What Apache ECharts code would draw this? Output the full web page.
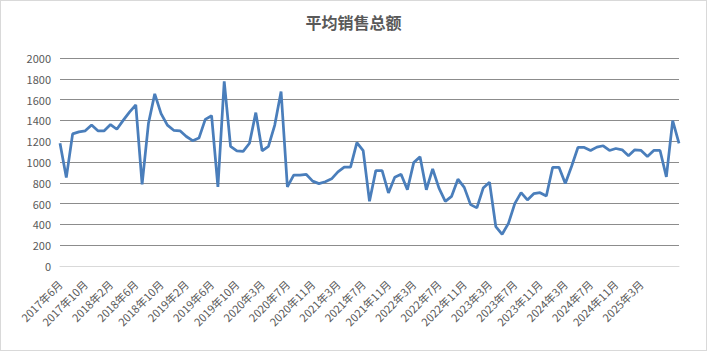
<!DOCTYPE html>
<html>
<head>
<meta charset="utf-8">
<script src="https://cdn.jsdelivr.net/npm/echarts@6/dist/echarts.min.js"></script>
<style>
  html, body { margin: 0; padding: 0; background: #fff; }
  #main { width: 707px; height: 351px; box-sizing: border-box; border: 1px solid #d9d9d9; }
</style>
</head>
<body>
<div id="main"></div>
<script>
// 月份（2020年1-2月合并为一期）
var months = [
  "2017年6月", "2017年7月", "2017年8月", "2017年9月", "2017年10月", "2017年11月", "2017年12月",
  "2018年1月", "2018年2月", "2018年3月", "2018年4月", "2018年5月", "2018年6月", "2018年7月",
  "2018年8月", "2018年9月", "2018年10月", "2018年11月", "2018年12月",
  "2019年1月", "2019年2月", "2019年3月", "2019年4月", "2019年5月", "2019年6月", "2019年7月",
  "2019年8月", "2019年9月", "2019年10月", "2019年11月", "2019年12月",
  "2020年2月", "2020年3月", "2020年4月", "2020年5月", "2020年6月", "2020年7月", "2020年8月",
  "2020年9月", "2020年10月", "2020年11月", "2020年12月",
  "2021年1月", "2021年2月", "2021年3月", "2021年4月", "2021年5月", "2021年6月", "2021年7月",
  "2021年8月", "2021年9月", "2021年10月", "2021年11月", "2021年12月",
  "2022年1月", "2022年2月", "2022年3月", "2022年4月", "2022年5月", "2022年6月", "2022年7月",
  "2022年8月", "2022年9月", "2022年10月", "2022年11月", "2022年12月",
  "2023年1月", "2023年2月", "2023年3月", "2023年4月", "2023年5月", "2023年6月", "2023年7月",
  "2023年8月", "2023年9月", "2023年10月", "2023年11月", "2023年12月",
  "2024年1月", "2024年2月", "2024年3月", "2024年4月", "2024年5月", "2024年6月", "2024年7月",
  "2024年8月", "2024年9月", "2024年10月", "2024年11月", "2024年12月",
  "2025年1月", "2025年2月", "2025年3月", "2025年4月", "2025年5月", "2025年6月", "2025年7月",
  "2025年8月", "2025年9月"
];

var avgSales = [
  1180, 850, 1270, 1290, 1300, 1355, 1300, 1300, 1360, 1315, 1400, 1480, 1550, 785,
  1370, 1655, 1465, 1355, 1305, 1300, 1245, 1205, 1230, 1410, 1445,
  760, 1775, 1150, 1108, 1102, 1180, 1475, 1108, 1150, 1355, 1678,
  760, 873, 873, 880, 816, 792, 810, 838, 905, 950, 950, 1187, 1110,
  622, 917, 917, 702, 854, 883, 733, 994, 1050, 733, 933, 749, 622, 670, 835, 756,
  590, 559, 749, 806, 378, 305, 410, 600, 705,
  635, 695, 705, 673, 949, 949, 794, 959, 1140, 1140, 1111, 1143, 1156,
  1111, 1130, 1117, 1060, 1117, 1111, 1054, 1111, 1111, 857, 1397, 1180
];

var yTicks = { min: 0, max: 2000, step: 200 };
var labelEvery = 4;
var lastLabel = "2025年3月";

var chart = echarts.init(document.getElementById("main"), null, { renderer: "svg" });
chart.setOption({
  backgroundColor: "#fff",
  animation: false,
  title: {
    text: "平均销售总额",
    left: "center",
    top: 8,
    textStyle: {
      fontFamily: "Noto Sans CJK SC",
      fontSize: 16,
      fontWeight: "bold",
      color: "#595959"
    }
  },
  grid: {
    left: 59,
    right: 27,
    top: 57,
    bottom: 84
  },
  xAxis: {
    type: "category",
    boundaryGap: false,
    data: months,
    axisTick: { show: false },
    axisLine: { lineStyle: { color: "#d9d9d9", width: 1 } },
    axisLabel: {
      interval: function (i) {
        return i % labelEvery === 0 && i <= months.indexOf(lastLabel);
      },
      rotate: 45,
      margin: 16,
      fontFamily: "Noto Sans CJK SC",
      fontSize: 11,
      color: "#595959"
    }
  },
  yAxis: {
    type: "value",
    min: yTicks.min,
    max: yTicks.max,
    interval: yTicks.step,
    axisLine: { show: false },
    axisTick: { show: false },
    axisLabel: {
      margin: 9,
      fontFamily: "Noto Sans CJK SC",
      fontSize: 11,
      color: "#595959",
      formatter: function (v) { return String(v); }
    },
    splitLine: { lineStyle: { color: "#8c8c8c", width: 1 } }
  },
  series: [
    {
      name: "平均销售总额",
      type: "line",
      data: avgSales,
      showSymbol: false,
      lineStyle: { color: "#4a7ebb", width: 2.75 },
      itemStyle: { color: "#4a7ebb" }
    }
  ]
});
</script>
</body>
</html>
